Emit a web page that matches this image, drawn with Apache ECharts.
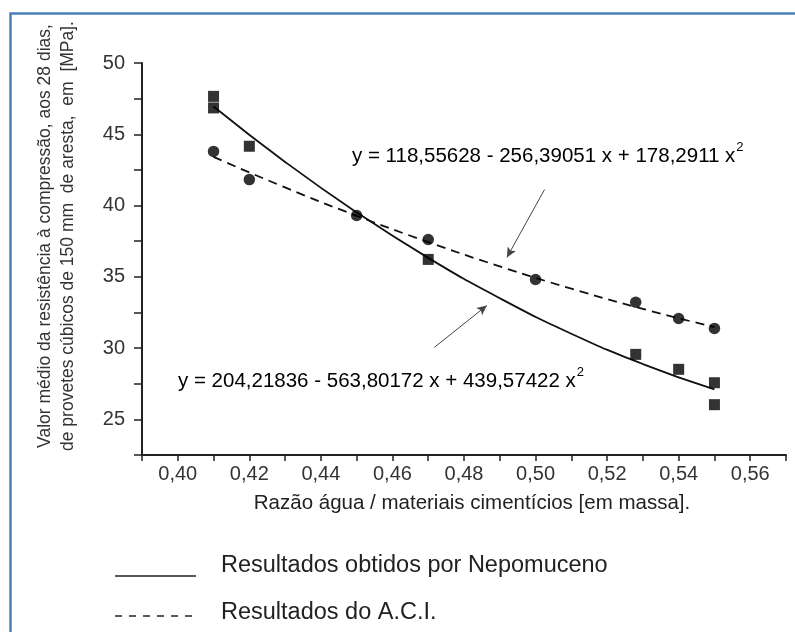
<!DOCTYPE html>
<html><head><meta charset="utf-8">
<script src="https://cdn.jsdelivr.net/npm/echarts@6/dist/echarts.min.js"></script>
<style>html,body{margin:0;padding:0;background:#fff}#c{width:795px;height:632px}</style>
</head><body><div id="c"></div>
<script>
// Measured points: Nepomuceno (squares) and ACI (circles)
const nepX = [0.41, 0.41, 0.42, 0.47, 0.528, 0.54, 0.55, 0.55];
const nepY = [47.66, 46.85, 44.16, 36.22, 29.56, 28.51, 27.57, 26.03];
const aciX = [0.41, 0.42, 0.45, 0.47, 0.50, 0.528, 0.54, 0.55];
const aciY = [43.8, 41.82, 39.3, 37.62, 34.81, 33.22, 32.08, 31.38];
// Fitted curves
const fitX = [0.41, 0.43, 0.45, 0.47, 0.49, 0.51, 0.53, 0.55];
const nepFit = [46.95, 43.06, 39.52, 36.33, 33.50, 31.01, 28.88, 27.10];
const aciFit = [43.41, 41.27, 39.28, 37.44, 35.73, 34.17, 32.75, 31.47];
// Annotation arrows (data coordinates: start -> tip)
const arrowAci = [[0.5025, 41.12], [0.4920, 36.36]];
const arrowNep = [[0.4717, 30.05], [0.4864, 32.99]];
// Texts
const eqAci = 'y = 118,55628 - 256,39051 x + 178,2911 x';
const eqNep = 'y = 204,21836 - 563,80172 x + 439,57422 x';
const yName1 = 'Valor médio da resistência à compressão, aos 28 dias,';
const yName2 = 'de provetes cúbicos de 150 mm  de aresta,  em  [MPa].';
const xName = 'Razão água / materiais cimentícios [em massa].';
const legendNep = 'Resultados obtidos por Nepomuceno';
const legendAci = 'Resultados do A.C.I.';

const FF = '"Liberation Sans", Arial, sans-serif';
const zip = (a, b) => a.map((v, i) => [v, b[i]]);

const chart = echarts.init(document.getElementById('c'), null, {renderer: 'canvas'});
const eqRich = {
  m: {fontSize: 20.5, fontFamily: FF, color: '#222', padding: [7, 0, 0, 0]},
  s: {fontSize: 13, fontFamily: FF, color: '#222', padding: [0, 0, 11, 1]}
};
chart.setOption({
  animation: false,
  backgroundColor: '#fff',
  grid: {left: 142, right: 9, top: 63, bottom: 177},
  xAxis: {
    type: 'value', min: 0.39, max: 0.57, interval: 0.01,
    name: xName, nameLocation: 'middle', nameGap: 38,
    nameTextStyle: {fontSize: 20.5, fontFamily: FF, color: '#222', padding: [0, 0, 0, 16]},
    axisLine: {lineStyle: {color: '#222', width: 2}},
    axisTick: {length: 6, lineStyle: {color: '#222', width: 1.5}},
    splitLine: {show: false},
    axisLabel: {
      margin: 9, fontSize: 20, fontFamily: FF, color: '#333',
      showMinLabel: true, showMaxLabel: true,
      formatter: v => (Math.round(v * 100) % 2 === 0) ? v.toFixed(2).replace('.', ',') : ''
    }
  },
  yAxis: {
    type: 'value', min: 22.5, max: 50, interval: 2.5,
    axisLine: {show: true, lineStyle: {color: '#222', width: 2}},
    axisTick: {show: true, length: 8, lineStyle: {color: '#222', width: 1.5}},
    splitLine: {show: false},
    axisLabel: {
      margin: 17, fontSize: 20, fontFamily: FF, color: '#333',
      formatter: v => (Math.abs(v % 5) < 1e-9) ? String(v) : ''
    }
  },
  series: [
    {
      type: 'line', data: zip(fitX, nepFit), smooth: true, symbol: 'none',
      lineStyle: {color: '#111', width: 1.8}, z: 2,
      markLine: {
        silent: true, symbol: ['none', 'arrow'], symbolSize: [7, 10],
        label: {show: false},
        lineStyle: {color: '#444', width: 1, type: 'solid'},
        data: [
          [{coord: arrowAci[0]}, {coord: arrowAci[1]}],
          [{coord: arrowNep[0]}, {coord: arrowNep[1]}]
        ]
      }
    },
    {
      type: 'line', data: zip(fitX, aciFit), smooth: true, symbol: 'none',
      lineStyle: {color: '#111', width: 1.8, type: [9, 6]}, z: 2
    },
    {
      type: 'scatter', data: zip(nepX, nepY), symbol: 'rect', symbolSize: 11,
      itemStyle: {color: '#000'}, z: 3
    },
    {
      type: 'scatter', data: zip(aciX, aciY), symbol: 'circle', symbolSize: 11.5,
      itemStyle: {color: '#000'}, z: 3
    }
  ],
  graphic: [
    {type: 'rect', left: 8, top: 11, shape: {width: 820, height: 700}, z: 100,
     style: {fill: 'none', stroke: '#4a7ebb', lineWidth: 2.5}},
    {type: 'text', x: 45, y: 236, rotation: Math.PI / 2,
     style: {text: yName1, font: '17.5px ' + FF, fill: '#333', align: 'center', verticalAlign: 'middle'}},
    {type: 'text', x: 68, y: 236, rotation: Math.PI / 2,
     style: {text: yName2, font: '17.5px ' + FF, fill: '#333', align: 'center', verticalAlign: 'middle'}},
    {type: 'text', x: 352, y: 153,
     style: {text: '{m|' + eqAci + '}{s|2}', rich: eqRich, align: 'left', verticalAlign: 'middle'}},
    {type: 'text', x: 178, y: 378,
     style: {text: '{m|' + eqNep + '}{s|2}', rich: eqRich, align: 'left', verticalAlign: 'middle'}},
    {type: 'line', shape: {x1: 115, y1: 576, x2: 196, y2: 576},
     style: {stroke: '#222', lineWidth: 1.5}},
    {type: 'line', shape: {x1: 115, y1: 616, x2: 196, y2: 616},
     style: {stroke: '#222', lineWidth: 1.5, lineDash: [7, 7]}},
    {type: 'text', x: 221, y: 566,
     style: {text: legendNep, font: '23.5px ' + FF, fill: '#222', align: 'left', verticalAlign: 'middle'}},
    {type: 'text', x: 221, y: 613,
     style: {text: legendAci, font: '23.5px ' + FF, fill: '#222', align: 'left', verticalAlign: 'middle'}}
  ]
});
</script></body></html>
